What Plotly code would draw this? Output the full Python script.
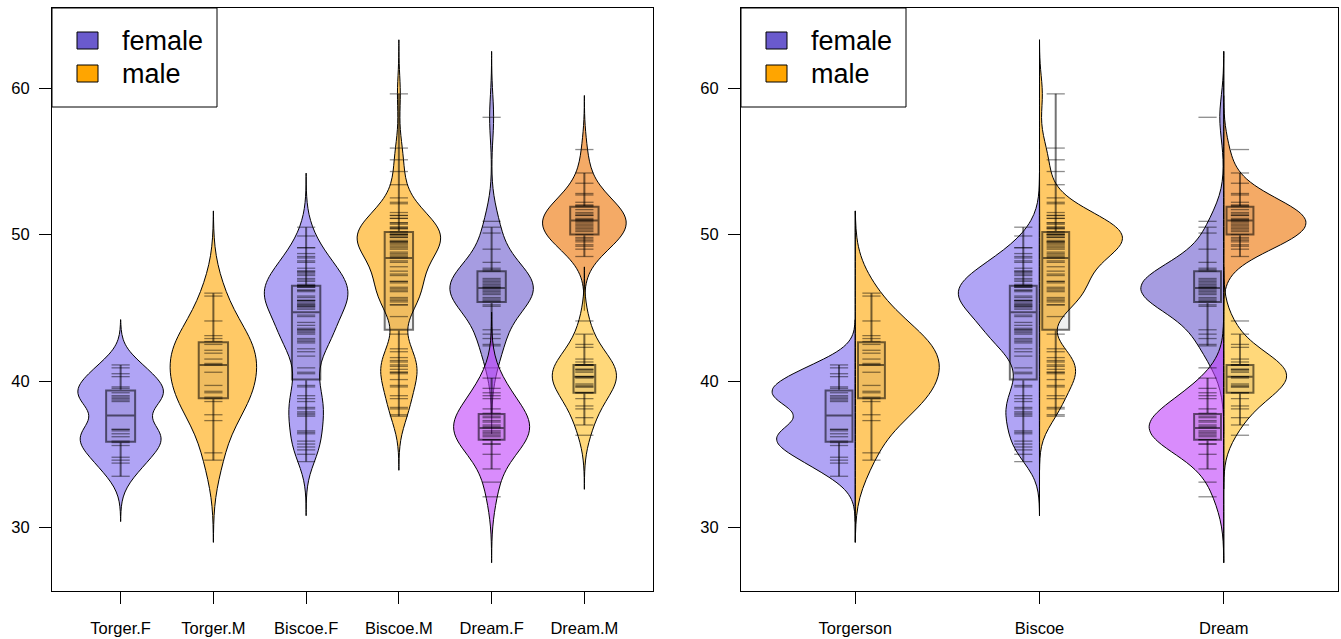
import numpy as np
import plotly.graph_objects as go

# ---------------- data (bill length, mm) ----------------
left_cats = ["Torger.F", "Torger.M", "Biscoe.F", "Biscoe.M", "Dream.F", "Dream.M"]
islands = ["Torgerson", "Biscoe", "Dream"]
y_ticks = [30, 40, 50, 60]

torg_f = [33.5, 34.4, 34.6, 34.8, 35.6, 35.8, 35.9, 36.2, 36.4, 36.6, 36.7, 36.7,
          38.6, 38.7, 38.8, 38.9, 39.0, 39.2, 39.5, 39.6, 40.3, 40.5, 40.9, 41.1]
torg_m = [34.6, 35.1, 37.3, 37.7, 38.6, 38.8, 38.9, 39.2, 39.3, 39.7, 40.6, 41.1,
          41.2, 41.5, 41.9, 42.1, 42.5, 42.7, 42.9, 43.1, 44.1, 45.8, 46.0]
bisc_f_adelie = [34.5, 35.0, 35.3, 35.5, 35.7, 35.9, 36.4, 36.5, 36.6, 37.6, 37.7,
                 37.8, 37.9, 38.1, 38.2, 38.6, 38.8, 39.0, 39.6, 39.7, 40.5, 40.6]
bisc_f_gentoo = [40.9, 41.7, 42.0, 42.2, 42.6, 42.7, 42.8, 42.9, 43.2, 43.3,
                 43.4, 43.5, 43.5, 43.6, 43.8, 44.0, 44.4, 44.5, 44.9, 45.0,
                 45.1, 45.1, 45.2, 45.2, 45.3, 45.4, 45.5, 45.5, 45.5, 45.7,
                 45.8, 46.1, 46.2, 46.2, 46.4, 46.4, 46.5, 46.5, 46.5, 46.6,
                 46.8, 46.9, 47.0, 47.2, 47.3, 47.4, 47.5, 47.5, 47.7, 48.1,
                 48.2, 48.4, 48.5, 48.7, 49.1, 49.1, 49.9, 50.5]
bisc_m_adelie = [37.6, 37.7, 38.1, 38.2, 38.8, 39.0, 39.6, 39.7, 40.1, 40.5, 40.6,
                 40.6, 40.8, 41.0, 41.1, 41.3, 41.4, 41.6, 42.0, 42.2, 43.2, 45.6]
bisc_m_gentoo = [44.4, 45.2, 45.2, 45.4, 45.5, 45.7, 46.1, 46.2, 46.3, 46.4,
                 46.7, 46.8, 46.8, 47.2, 47.3, 47.5, 47.8, 48.1, 48.2, 48.4,
                 48.5, 48.6, 48.7, 48.8, 49.0, 49.1, 49.2, 49.3, 49.4, 49.5,
                 49.5, 49.5, 49.6, 49.8, 49.8, 49.9, 50.0, 50.0, 50.0, 50.1,
                 50.2, 50.4, 50.4, 50.5, 50.5, 50.7, 50.8, 50.8, 51.1, 51.1,
                 51.3, 51.3, 51.5, 52.1, 52.2, 52.5, 53.4, 54.3, 55.1, 55.9, 59.6]
dream_f_chinstrap = [40.9, 42.4, 42.5, 42.9, 43.2, 43.5, 45.1, 45.2, 45.4, 45.5,
                     45.6, 45.7, 45.9, 46.0, 46.1, 46.2, 46.3, 46.4, 46.4, 46.5,
                     46.6, 46.7, 46.8, 46.9, 47.0, 47.5, 47.6, 47.7, 48.1, 49.0,
                     50.1, 50.5, 50.9, 58.0]
dream_f_adelie = [32.1, 33.1, 34.0, 35.0, 35.7, 35.7, 36.0, 36.0, 36.2, 36.3, 36.4,
                  36.5, 36.6, 36.8, 36.9, 37.0, 37.2, 37.3, 37.5, 37.6, 37.8, 38.1,
                  38.8, 39.0, 39.2, 39.5, 40.2]
dream_m_chinstrap = [48.5, 49.0, 49.2, 49.3, 49.5, 49.6, 49.7, 49.8, 50.0, 50.2,
                     50.3, 50.4, 50.5, 50.6, 50.7, 50.8, 50.9, 51.0, 51.0, 51.1,
                     51.3, 51.3, 51.4, 51.5, 51.7, 51.9, 52.0, 52.0, 52.2, 52.7,
                     52.8, 53.5, 54.2, 55.8]
dream_m_adelie = [36.3, 37.0, 37.5, 38.1, 38.3, 38.8, 39.2, 39.2, 39.6, 39.6, 39.7,
                  39.8, 40.2, 40.3, 40.3, 40.6, 40.7, 40.8, 40.8, 41.1, 41.1, 41.1,
                  41.3, 41.5, 42.3, 42.5, 43.2, 44.1]

bisc_f = bisc_f_adelie + bisc_f_gentoo
bisc_m = bisc_m_adelie + bisc_m_gentoo

# ---------------- styles ----------------
FEMALE = "rgba(123,104,238,0.6)"
MALE = "rgba(255,165,0,0.6)"
CHIN_F = "rgba(106,90,205,0.6)"
ADE_F = "rgba(191,64,250,0.6)"
CHIN_M = "rgba(237,113,0,0.6)"
ADE_M = "rgba(255,190,33,0.6)"
BOX_FILL = "rgba(0,0,0,0.06)"
BOX_LINE = "rgba(0,0,0,0.55)"
RUG = dict(symbol="line-ew", size=13, color="rgba(0,0,0,0.45)",
           line=dict(width=1.3, color="rgba(0,0,0,0.45)"))
FONT = "Liberation Sans, Arial, Helvetica, sans-serif"

# smoothing bandwidths (kernel density), as seen from the violin tails
BW = {"torg_f": 1.03, "torg_m": 1.87, "bisc_f": 1.23, "bisc_m": 1.23,
      "chin_f": 1.5, "ade_f": 1.5, "chin_m": 1.23, "ade_m": 1.23}


def span_of(vals, key):
    bw = BW[key]
    return [min(vals) - 3 * bw, max(vals) + 3 * bw]


def violin_kw(vals, key):
    return dict(bandwidth=BW[key], spanmode="manual", span=span_of(vals, key))


fig = go.Figure()

# ---------------- left panel ----------------
left_groups = [
    ("Torger.F", torg_f, "torg_f", FEMALE, 0.92),
    ("Torger.M", torg_m, "torg_m", MALE, 0.93),
    ("Biscoe.F", bisc_f, "bisc_f", FEMALE, 0.90),
    ("Biscoe.M", bisc_m, "bisc_m", MALE, 0.90),
    ("Dream.F", dream_f_chinstrap, "chin_f", CHIN_F, 0.90),
    ("Dream.F", dream_f_adelie, "ade_f", ADE_F, 0.82),
    ("Dream.M", dream_m_chinstrap, "chin_m", CHIN_M, 0.90),
    ("Dream.M", dream_m_adelie, "ade_m", ADE_M, 0.69),
]
for cat, vals, key, col, w in left_groups:
    fig.add_trace(go.Violin(
        x=[cat] * len(vals), y=vals, xaxis="x", yaxis="y",
        side="both", width=w, scalemode="width",
        fillcolor=col, line=dict(color="black", width=1),
        box=dict(visible=True, width=0.34, fillcolor=BOX_FILL,
                 line=dict(color=BOX_LINE, width=2)),
        meanline=dict(visible=False),
        points="all", pointpos=0, jitter=0, marker=RUG,
        showlegend=False, hoverinfo="skip", **violin_kw(vals, key)))

# ---------------- right panel ----------------
right_groups = [
    ("Torgerson", torg_f, "torg_f", FEMALE, 0.90, "negative"),
    ("Torgerson", torg_m, "torg_m", MALE, 0.91, "positive"),
    ("Biscoe", bisc_f, "bisc_f", FEMALE, 0.88, "negative"),
    ("Biscoe", bisc_m, "bisc_m", MALE, 0.90, "positive"),
    ("Dream", dream_f_chinstrap, "chin_f", CHIN_F, 0.90, "negative"),
    ("Dream", dream_f_adelie, "ade_f", ADE_F, 0.81, "negative"),
    ("Dream", dream_m_chinstrap, "chin_m", CHIN_M, 0.89, "positive"),
    ("Dream", dream_m_adelie, "ade_m", ADE_M, 0.68, "positive"),
]
for isl, vals, key, col, w, side in right_groups:
    fig.add_trace(go.Violin(
        x=[isl] * len(vals), y=vals, xaxis="x2", yaxis="y2",
        side=side, width=w, scalemode="width",
        fillcolor=col, line=dict(color="black", width=1),
        box=dict(visible=False), meanline=dict(visible=False), points=False,
        showlegend=False, hoverinfo="skip", **violin_kw(vals, key)))

# split-bean centre line: a hair-thin outline over each island's full span
for isl in islands:
    grp = [(v, k) for i2, v, k, c, w, s in right_groups if i2 == isl]
    allv = [x for v, k in grp for x in v]
    spans = [span_of(v, k) for v, k in grp]
    fig.add_trace(go.Violin(
        x=[isl] * len(allv), y=allv, xaxis="x2", yaxis="y2",
        side="both", width=0.003, scalemode="width",
        fillcolor="rgba(0,0,0,0)", line=dict(color="black", width=1),
        bandwidth=1.5, spanmode="manual",
        span=[min(s[0] for s in spans), max(s[1] for s in spans)],
        box=dict(visible=False), meanline=dict(visible=False), points=False,
        showlegend=False, hoverinfo="skip"))

for isl, vals, key, col, w, side in right_groups:
    fig.add_trace(go.Box(
        x=[isl] * len(vals), y=vals, xaxis="x2", yaxis="y2",
        offsetgroup="F" if side == "negative" else "M", alignmentgroup="right",
        fillcolor=BOX_FILL, line=dict(color=BOX_LINE, width=2), whiskerwidth=0,
        boxpoints="all", pointpos=0, jitter=0, marker=RUG,
        showlegend=False, hoverinfo="skip"))

# ---------------- legends (one box per panel) ----------------
W, H = 1341, 639
px = lambda v: v / W
py = lambda v: 1 - v / H
shapes, annos = [], []
for x0 in (52, 741):
    shapes.append(dict(type="rect", xref="paper", yref="paper",
                       x0=px(x0), x1=px(x0 + 165), y0=py(107), y1=py(8),
                       line=dict(color="black", width=1), fillcolor="white", layer="above"))
    for (t0, t1), col, lab in (((32, 49), "#6A5ACD", "female"), ((65, 82), "#FFA500", "male")):
        shapes.append(dict(type="rect", xref="paper", yref="paper",
                           x0=px(x0 + 25), x1=px(x0 + 46), y0=py(t1), y1=py(t0),
                           line=dict(color="black", width=1), fillcolor=col, layer="above"))
        annos.append(dict(xref="paper", yref="paper", x=px(x0 + 68), y=py((t0 + t1) / 2),
                          xanchor="left", yanchor="middle", text=lab, showarrow=False,
                          font=dict(size=27, color="black", family=FONT)))

axis_common = dict(showline=True, mirror=True, linecolor="black", linewidth=1,
                   ticks="outside", ticklen=12, tickcolor="black", tickwidth=1,
                   showgrid=False, zeroline=False,
                   tickfont=dict(size=16.5, color="black", family=FONT))

fig.update_layout(
    width=W, height=H, margin=dict(l=0, r=0, t=0, b=0, autoexpand=False),
    paper_bgcolor="white", plot_bgcolor="white",
    violinmode="overlay", violingap=0, violingroupgap=0,
    boxmode="group", boxgap=0.648, boxgroupgap=0.17,
    showlegend=False, shapes=shapes, annotations=annos,
    font=dict(family=FONT, color="black"),
    xaxis=dict(domain=[px(52), px(653)], anchor="y", type="category",
               categoryorder="array", categoryarray=left_cats,
               range=[-0.74, 5.74], ticklabelstandoff=10, **axis_common),
    yaxis=dict(domain=[py(591), py(8)], anchor="x", range=[25.67, 65.46],
               tickvals=y_ticks, ticklabelstandoff=6, **axis_common),
    xaxis2=dict(domain=[px(741), px(1338)], anchor="y2", type="category",
                categoryorder="array", categoryarray=islands,
                range=[-0.62, 2.62], ticklabelstandoff=10, **axis_common),
    yaxis2=dict(domain=[py(591), py(8)], anchor="x2", range=[25.67, 65.46],
                tickvals=y_ticks, ticklabelstandoff=6, **axis_common),
)

fig.write_html("out.html", config={"displayModeBar": False, "staticPlot": True},
               post_script="document.body.style.margin='0';document.body.style.padding='0';"
                           "document.body.style.overflow='hidden';")
